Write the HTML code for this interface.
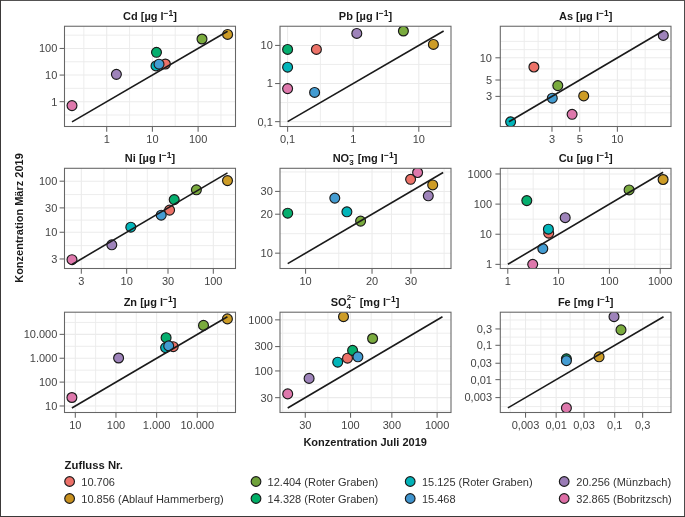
<!DOCTYPE html>
<html><head><meta charset="utf-8"><style>html,body{margin:0;padding:0;background:#fff}svg{display:block}</style></head>
<body><div style="will-change:transform"><svg width="685" height="517" viewBox="0 0 685 517">
<style>
.mn{stroke:#EBEBEB;stroke-width:0.9}
.mj{stroke:#EBEBEB;stroke-width:1.07}
.pt{stroke:#1a1a1a;stroke-width:1.15}
.ln{stroke:#1a1a1a;stroke-width:1.6}
.bd{fill:none;stroke:#666;stroke-width:1.07}
.tk{stroke:#666;stroke-width:1.07}
text{font-family:"Liberation Sans",sans-serif}
.tl{font-size:11px;fill:#444}
.pt_title{font-size:11px;font-weight:bold;fill:#1a1a1a}
.at{font-size:11px;font-weight:bold;fill:#1a1a1a}
.lt{font-size:11.3px;font-weight:bold;fill:#1a1a1a}
.lg{font-size:11px;fill:#333}
</style>
<rect x="0" y="0" width="685" height="517" fill="#fff"/>
<line x1="83.85" y1="26.25" x2="83.85" y2="126.5" class="mn"/>
<line x1="129.55" y1="26.25" x2="129.55" y2="126.5" class="mn"/>
<line x1="175.25" y1="26.25" x2="175.25" y2="126.5" class="mn"/>
<line x1="220.95" y1="26.25" x2="220.95" y2="126.5" class="mn"/>
<line x1="64.5" y1="114.97" x2="235.5" y2="114.97" class="mn"/>
<line x1="64.5" y1="88.37" x2="235.5" y2="88.37" class="mn"/>
<line x1="64.5" y1="61.77" x2="235.5" y2="61.77" class="mn"/>
<line x1="64.5" y1="35.17" x2="235.5" y2="35.17" class="mn"/>
<line x1="106.70" y1="26.25" x2="106.70" y2="126.5" class="mj"/>
<line x1="152.40" y1="26.25" x2="152.40" y2="126.5" class="mj"/>
<line x1="198.10" y1="26.25" x2="198.10" y2="126.5" class="mj"/>
<line x1="64.5" y1="101.67" x2="235.5" y2="101.67" class="mj"/>
<line x1="64.5" y1="75.07" x2="235.5" y2="75.07" class="mj"/>
<line x1="64.5" y1="48.47" x2="235.5" y2="48.47" class="mj"/>
<clipPath id="cp0"><rect x="64.5" y="26.25" width="171.00" height="100.25"/></clipPath><g clip-path="url(#cp0)">
<circle cx="165.4" cy="64.0" r="4.95" fill="#EC7268" class="pt"/>
<circle cx="227.6" cy="34.4" r="4.95" fill="#CD9C26" class="pt"/>
<circle cx="202" cy="39" r="4.95" fill="#7AAB3E" class="pt"/>
<circle cx="156.5" cy="52.3" r="4.95" fill="#05AE6E" class="pt"/>
<circle cx="156.0" cy="65.9" r="4.95" fill="#02B5BA" class="pt"/>
<circle cx="159.0" cy="64.2" r="4.95" fill="#439CD2" class="pt"/>
<circle cx="116.4" cy="74.35" r="4.95" fill="#9E83BA" class="pt"/>
<circle cx="72" cy="105.6" r="4.95" fill="#DE78AC" class="pt"/>
<line x1="72.00" y1="121.86" x2="227.60" y2="31.30" class="ln"/>
</g>
<rect x="64.5" y="26.25" width="171.00" height="100.25" class="bd"/>
<line x1="106.70" y1="126.5" x2="106.70" y2="131.7" class="tk"/>
<text x="106.70" y="142.7" class="tl" text-anchor="middle">1</text>
<line x1="152.40" y1="126.5" x2="152.40" y2="131.7" class="tk"/>
<text x="152.40" y="142.7" class="tl" text-anchor="middle">10</text>
<line x1="198.10" y1="126.5" x2="198.10" y2="131.7" class="tk"/>
<text x="198.10" y="142.7" class="tl" text-anchor="middle">100</text>
<line x1="59.6" y1="101.67" x2="64.5" y2="101.67" class="tk"/>
<text x="57.3" y="105.57" class="tl" text-anchor="end">1</text>
<line x1="59.6" y1="75.07" x2="64.5" y2="75.07" class="tk"/>
<text x="57.3" y="78.97" class="tl" text-anchor="end">10</text>
<line x1="59.6" y1="48.47" x2="64.5" y2="48.47" class="tk"/>
<text x="57.3" y="52.37" class="tl" text-anchor="end">100</text>
<text x="150.00" y="20.0" class="pt_title" text-anchor="middle">Cd [µg l<tspan dy="-4.4" font-size="8.5">−1</tspan><tspan dy="4.4">]</tspan></text>
<line x1="320.40" y1="26.25" x2="320.40" y2="126.5" class="mn"/>
<line x1="386.00" y1="26.25" x2="386.00" y2="126.5" class="mn"/>
<line x1="280.0" y1="102.58" x2="451.0" y2="102.58" class="mn"/>
<line x1="280.0" y1="64.48" x2="451.0" y2="64.48" class="mn"/>
<line x1="287.60" y1="26.25" x2="287.60" y2="126.5" class="mj"/>
<line x1="353.20" y1="26.25" x2="353.20" y2="126.5" class="mj"/>
<line x1="418.80" y1="26.25" x2="418.80" y2="126.5" class="mj"/>
<line x1="280.0" y1="121.63" x2="451.0" y2="121.63" class="mj"/>
<line x1="280.0" y1="83.53" x2="451.0" y2="83.53" class="mj"/>
<line x1="280.0" y1="45.43" x2="451.0" y2="45.43" class="mj"/>
<clipPath id="cp1"><rect x="280.0" y="26.25" width="171.00" height="100.25"/></clipPath><g clip-path="url(#cp1)">
<circle cx="316.4" cy="49.4" r="4.95" fill="#EC7268" class="pt"/>
<circle cx="433.4" cy="44.4" r="4.95" fill="#CD9C26" class="pt"/>
<circle cx="403.4" cy="31" r="4.95" fill="#7AAB3E" class="pt"/>
<circle cx="287.6" cy="49.4" r="4.95" fill="#05AE6E" class="pt"/>
<circle cx="287.6" cy="67.2" r="4.95" fill="#02B5BA" class="pt"/>
<circle cx="314.6" cy="92.4" r="4.95" fill="#439CD2" class="pt"/>
<circle cx="356.8" cy="33.4" r="4.95" fill="#9E83BA" class="pt"/>
<circle cx="287.6" cy="88.6" r="4.95" fill="#DE78AC" class="pt"/>
<line x1="287.60" y1="121.63" x2="443.65" y2="31.00" class="ln"/>
</g>
<rect x="280.0" y="26.25" width="171.00" height="100.25" class="bd"/>
<line x1="287.60" y1="126.5" x2="287.60" y2="131.7" class="tk"/>
<text x="287.60" y="142.7" class="tl" text-anchor="middle">0,1</text>
<line x1="353.20" y1="126.5" x2="353.20" y2="131.7" class="tk"/>
<text x="353.20" y="142.7" class="tl" text-anchor="middle">1</text>
<line x1="418.80" y1="126.5" x2="418.80" y2="131.7" class="tk"/>
<text x="418.80" y="142.7" class="tl" text-anchor="middle">10</text>
<line x1="275.1" y1="121.63" x2="280.0" y2="121.63" class="tk"/>
<text x="272.8" y="125.53" class="tl" text-anchor="end">0,1</text>
<line x1="275.1" y1="83.53" x2="280.0" y2="83.53" class="tk"/>
<text x="272.8" y="87.43" class="tl" text-anchor="end">1</text>
<line x1="275.1" y1="45.43" x2="280.0" y2="45.43" class="tk"/>
<text x="272.8" y="49.33" class="tl" text-anchor="end">10</text>
<text x="365.50" y="20.0" class="pt_title" text-anchor="middle">Pb [µg l<tspan dy="-4.4" font-size="8.5">−1</tspan><tspan dy="4.4">]</tspan></text>
<line x1="538.11" y1="26.25" x2="538.11" y2="126.5" class="mn"/>
<line x1="565.86" y1="26.25" x2="565.86" y2="126.5" class="mn"/>
<line x1="598.56" y1="26.25" x2="598.56" y2="126.5" class="mn"/>
<line x1="631.26" y1="26.25" x2="631.26" y2="126.5" class="mn"/>
<line x1="524.23" y1="26.25" x2="524.23" y2="126.5" class="mn"/>
<line x1="645.14" y1="26.25" x2="645.14" y2="126.5" class="mn"/>
<line x1="500.3" y1="104.58" x2="671.0" y2="104.58" class="mn"/>
<line x1="500.3" y1="88.20" x2="671.0" y2="88.20" class="mn"/>
<line x1="500.3" y1="68.90" x2="671.0" y2="68.90" class="mn"/>
<line x1="500.3" y1="49.61" x2="671.0" y2="49.61" class="mn"/>
<line x1="500.3" y1="112.77" x2="671.0" y2="112.77" class="mn"/>
<line x1="500.3" y1="41.42" x2="671.0" y2="41.42" class="mn"/>
<line x1="551.98" y1="26.25" x2="551.98" y2="126.5" class="mj"/>
<line x1="579.73" y1="26.25" x2="579.73" y2="126.5" class="mj"/>
<line x1="617.39" y1="26.25" x2="617.39" y2="126.5" class="mj"/>
<line x1="500.3" y1="96.39" x2="671.0" y2="96.39" class="mj"/>
<line x1="500.3" y1="80.01" x2="671.0" y2="80.01" class="mj"/>
<line x1="500.3" y1="57.79" x2="671.0" y2="57.79" class="mj"/>
<clipPath id="cp2"><rect x="500.3" y="26.25" width="170.70" height="100.25"/></clipPath><g clip-path="url(#cp2)">
<circle cx="533.9" cy="67" r="4.95" fill="#EC7268" class="pt"/>
<circle cx="583.7" cy="95.9" r="4.95" fill="#CD9C26" class="pt"/>
<circle cx="557.8" cy="85.6" r="4.95" fill="#7AAB3E" class="pt"/>
<circle cx="510.6" cy="121.8" r="4.95" fill="#02B5BA" class="pt"/>
<circle cx="552.3" cy="98.2" r="4.95" fill="#439CD2" class="pt"/>
<circle cx="663.3" cy="35.4" r="4.95" fill="#9E83BA" class="pt"/>
<circle cx="572.1" cy="114.3" r="4.95" fill="#DE78AC" class="pt"/>
<line x1="508.93" y1="121.80" x2="663.30" y2="30.70" class="ln"/>
</g>
<rect x="500.3" y="26.25" width="170.70" height="100.25" class="bd"/>
<line x1="551.98" y1="126.5" x2="551.98" y2="131.7" class="tk"/>
<text x="551.98" y="142.7" class="tl" text-anchor="middle">3</text>
<line x1="579.73" y1="126.5" x2="579.73" y2="131.7" class="tk"/>
<text x="579.73" y="142.7" class="tl" text-anchor="middle">5</text>
<line x1="617.39" y1="126.5" x2="617.39" y2="131.7" class="tk"/>
<text x="617.39" y="142.7" class="tl" text-anchor="middle">10</text>
<line x1="495.40000000000003" y1="96.39" x2="500.3" y2="96.39" class="tk"/>
<text x="492.0" y="100.29" class="tl" text-anchor="end">3</text>
<line x1="495.40000000000003" y1="80.01" x2="500.3" y2="80.01" class="tk"/>
<text x="492.0" y="83.91" class="tl" text-anchor="end">5</text>
<line x1="495.40000000000003" y1="57.79" x2="500.3" y2="57.79" class="tk"/>
<text x="492.0" y="61.69" class="tl" text-anchor="end">10</text>
<text x="585.65" y="20.0" class="pt_title" text-anchor="middle">As [µg l<tspan dy="-4.4" font-size="8.5">−1</tspan><tspan dy="4.4">]</tspan></text>
<line x1="103.99" y1="168.3" x2="103.99" y2="268.5" class="mn"/>
<line x1="147.32" y1="168.3" x2="147.32" y2="268.5" class="mn"/>
<line x1="190.66" y1="168.3" x2="190.66" y2="268.5" class="mn"/>
<line x1="64.5" y1="245.61" x2="235.5" y2="245.61" class="mn"/>
<line x1="64.5" y1="220.08" x2="235.5" y2="220.08" class="mn"/>
<line x1="64.5" y1="194.54" x2="235.5" y2="194.54" class="mn"/>
<line x1="81.33" y1="168.3" x2="81.33" y2="268.5" class="mj"/>
<line x1="126.65" y1="168.3" x2="126.65" y2="268.5" class="mj"/>
<line x1="168.00" y1="168.3" x2="168.00" y2="268.5" class="mj"/>
<line x1="213.32" y1="168.3" x2="213.32" y2="268.5" class="mj"/>
<line x1="64.5" y1="258.96" x2="235.5" y2="258.96" class="mj"/>
<line x1="64.5" y1="232.26" x2="235.5" y2="232.26" class="mj"/>
<line x1="64.5" y1="207.89" x2="235.5" y2="207.89" class="mj"/>
<line x1="64.5" y1="181.19" x2="235.5" y2="181.19" class="mj"/>
<clipPath id="cp3"><rect x="64.5" y="168.3" width="171.00" height="100.20"/></clipPath><g clip-path="url(#cp3)">
<circle cx="169.6" cy="210.1" r="4.95" fill="#EC7268" class="pt"/>
<circle cx="227.5" cy="180.6" r="4.95" fill="#CD9C26" class="pt"/>
<circle cx="196.4" cy="189.8" r="4.95" fill="#7AAB3E" class="pt"/>
<circle cx="174.2" cy="199.6" r="4.95" fill="#05AE6E" class="pt"/>
<circle cx="130.8" cy="227.2" r="4.95" fill="#02B5BA" class="pt"/>
<circle cx="161.2" cy="215.2" r="4.95" fill="#439CD2" class="pt"/>
<circle cx="111.8" cy="244.8" r="4.95" fill="#9E83BA" class="pt"/>
<circle cx="72" cy="259.7" r="4.95" fill="#DE78AC" class="pt"/>
<line x1="72.00" y1="264.46" x2="227.50" y2="172.83" class="ln"/>
</g>
<rect x="64.5" y="168.3" width="171.00" height="100.20" class="bd"/>
<line x1="81.33" y1="268.5" x2="81.33" y2="273.7" class="tk"/>
<text x="81.33" y="284.7" class="tl" text-anchor="middle">3</text>
<line x1="126.65" y1="268.5" x2="126.65" y2="273.7" class="tk"/>
<text x="126.65" y="284.7" class="tl" text-anchor="middle">10</text>
<line x1="168.00" y1="268.5" x2="168.00" y2="273.7" class="tk"/>
<text x="168.00" y="284.7" class="tl" text-anchor="middle">30</text>
<line x1="213.32" y1="268.5" x2="213.32" y2="273.7" class="tk"/>
<text x="213.32" y="284.7" class="tl" text-anchor="middle">100</text>
<line x1="59.6" y1="258.96" x2="64.5" y2="258.96" class="tk"/>
<text x="57.3" y="262.86" class="tl" text-anchor="end">3</text>
<line x1="59.6" y1="232.26" x2="64.5" y2="232.26" class="tk"/>
<text x="57.3" y="236.16" class="tl" text-anchor="end">10</text>
<line x1="59.6" y1="207.89" x2="64.5" y2="207.89" class="tk"/>
<text x="57.3" y="211.79" class="tl" text-anchor="end">30</text>
<line x1="59.6" y1="181.19" x2="64.5" y2="181.19" class="tk"/>
<text x="57.3" y="185.09" class="tl" text-anchor="end">100</text>
<text x="150.00" y="162.0" class="pt_title" text-anchor="middle">Ni [µg l<tspan dy="-4.4" font-size="8.5">−1</tspan><tspan dy="4.4">]</tspan></text>
<line x1="338.80" y1="168.3" x2="338.80" y2="268.5" class="mn"/>
<line x1="391.46" y1="168.3" x2="391.46" y2="268.5" class="mn"/>
<line x1="444.12" y1="168.3" x2="444.12" y2="268.5" class="mn"/>
<line x1="280.0" y1="233.69" x2="451.0" y2="233.69" class="mn"/>
<line x1="280.0" y1="202.81" x2="451.0" y2="202.81" class="mn"/>
<line x1="280.0" y1="171.94" x2="451.0" y2="171.94" class="mn"/>
<line x1="305.57" y1="168.3" x2="305.57" y2="268.5" class="mj"/>
<line x1="372.03" y1="168.3" x2="372.03" y2="268.5" class="mj"/>
<line x1="410.90" y1="168.3" x2="410.90" y2="268.5" class="mj"/>
<line x1="280.0" y1="253.17" x2="451.0" y2="253.17" class="mj"/>
<line x1="280.0" y1="214.21" x2="451.0" y2="214.21" class="mj"/>
<line x1="280.0" y1="191.42" x2="451.0" y2="191.42" class="mj"/>
<clipPath id="cp4"><rect x="280.0" y="168.3" width="171.00" height="100.20"/></clipPath><g clip-path="url(#cp4)">
<circle cx="410.6" cy="179.3" r="4.95" fill="#EC7268" class="pt"/>
<circle cx="432.7" cy="184.9" r="4.95" fill="#CD9C26" class="pt"/>
<circle cx="360.6" cy="221.1" r="4.95" fill="#7AAB3E" class="pt"/>
<circle cx="287.7" cy="213.2" r="4.95" fill="#05AE6E" class="pt"/>
<circle cx="346.9" cy="211.8" r="4.95" fill="#02B5BA" class="pt"/>
<circle cx="334.8" cy="198.1" r="4.95" fill="#439CD2" class="pt"/>
<circle cx="428.3" cy="195.8" r="4.95" fill="#9E83BA" class="pt"/>
<circle cx="417.6" cy="172.5" r="4.95" fill="#DE78AC" class="pt"/>
<line x1="287.70" y1="263.65" x2="443.17" y2="172.50" class="ln"/>
</g>
<rect x="280.0" y="168.3" width="171.00" height="100.20" class="bd"/>
<line x1="305.57" y1="268.5" x2="305.57" y2="273.7" class="tk"/>
<text x="305.57" y="284.7" class="tl" text-anchor="middle">10</text>
<line x1="372.03" y1="268.5" x2="372.03" y2="273.7" class="tk"/>
<text x="372.03" y="284.7" class="tl" text-anchor="middle">20</text>
<line x1="410.90" y1="268.5" x2="410.90" y2="273.7" class="tk"/>
<text x="410.90" y="284.7" class="tl" text-anchor="middle">30</text>
<line x1="275.1" y1="253.17" x2="280.0" y2="253.17" class="tk"/>
<text x="272.8" y="257.07" class="tl" text-anchor="end">10</text>
<line x1="275.1" y1="214.21" x2="280.0" y2="214.21" class="tk"/>
<text x="272.8" y="218.11" class="tl" text-anchor="end">20</text>
<line x1="275.1" y1="191.42" x2="280.0" y2="191.42" class="tk"/>
<text x="272.8" y="195.32" class="tl" text-anchor="end">30</text>
<text x="365.00" y="162.0" class="pt_title" text-anchor="middle">NO<tspan dy="3" font-size="8">3</tspan><tspan dx="-4.5" dy="-7.5" font-size="8">−</tspan><tspan dx="0.8" dy="4.5"> [mg l<tspan dy="-4.4" font-size="8.5">−1</tspan><tspan dy="4.4">]</tspan></tspan></text>
<line x1="533.18" y1="168.3" x2="533.18" y2="268.5" class="mn"/>
<line x1="584.00" y1="168.3" x2="584.00" y2="268.5" class="mn"/>
<line x1="634.82" y1="168.3" x2="634.82" y2="268.5" class="mn"/>
<line x1="500.3" y1="249.31" x2="671.0" y2="249.31" class="mn"/>
<line x1="500.3" y1="219.18" x2="671.0" y2="219.18" class="mn"/>
<line x1="500.3" y1="189.04" x2="671.0" y2="189.04" class="mn"/>
<line x1="507.77" y1="168.3" x2="507.77" y2="268.5" class="mj"/>
<line x1="558.59" y1="168.3" x2="558.59" y2="268.5" class="mj"/>
<line x1="609.41" y1="168.3" x2="609.41" y2="268.5" class="mj"/>
<line x1="660.23" y1="168.3" x2="660.23" y2="268.5" class="mj"/>
<line x1="500.3" y1="264.37" x2="671.0" y2="264.37" class="mj"/>
<line x1="500.3" y1="234.24" x2="671.0" y2="234.24" class="mj"/>
<line x1="500.3" y1="204.11" x2="671.0" y2="204.11" class="mj"/>
<line x1="500.3" y1="173.98" x2="671.0" y2="173.98" class="mj"/>
<clipPath id="cp5"><rect x="500.3" y="168.3" width="170.70" height="100.20"/></clipPath><g clip-path="url(#cp5)">
<circle cx="548.7" cy="233.2" r="4.95" fill="#EC7268" class="pt"/>
<circle cx="663.1" cy="179.5" r="4.95" fill="#CD9C26" class="pt"/>
<circle cx="629.1" cy="189.9" r="4.95" fill="#7AAB3E" class="pt"/>
<circle cx="526.8" cy="200.6" r="4.95" fill="#05AE6E" class="pt"/>
<circle cx="548.4" cy="229.2" r="4.95" fill="#02B5BA" class="pt"/>
<circle cx="542.8" cy="248.6" r="4.95" fill="#439CD2" class="pt"/>
<circle cx="565.2" cy="217.7" r="4.95" fill="#9E83BA" class="pt"/>
<circle cx="532.7" cy="264.3" r="4.95" fill="#DE78AC" class="pt"/>
<line x1="507.89" y1="264.30" x2="663.10" y2="172.28" class="ln"/>
</g>
<rect x="500.3" y="168.3" width="170.70" height="100.20" class="bd"/>
<line x1="507.77" y1="268.5" x2="507.77" y2="273.7" class="tk"/>
<text x="507.77" y="284.7" class="tl" text-anchor="middle">1</text>
<line x1="558.59" y1="268.5" x2="558.59" y2="273.7" class="tk"/>
<text x="558.59" y="284.7" class="tl" text-anchor="middle">10</text>
<line x1="609.41" y1="268.5" x2="609.41" y2="273.7" class="tk"/>
<text x="609.41" y="284.7" class="tl" text-anchor="middle">100</text>
<line x1="660.23" y1="268.5" x2="660.23" y2="273.7" class="tk"/>
<text x="660.23" y="284.7" class="tl" text-anchor="middle">1000</text>
<line x1="495.40000000000003" y1="264.37" x2="500.3" y2="264.37" class="tk"/>
<text x="492.0" y="268.27" class="tl" text-anchor="end">1</text>
<line x1="495.40000000000003" y1="234.24" x2="500.3" y2="234.24" class="tk"/>
<text x="492.0" y="238.14" class="tl" text-anchor="end">10</text>
<line x1="495.40000000000003" y1="204.11" x2="500.3" y2="204.11" class="tk"/>
<text x="492.0" y="208.01" class="tl" text-anchor="end">100</text>
<line x1="495.40000000000003" y1="173.98" x2="500.3" y2="173.98" class="tk"/>
<text x="492.0" y="177.88" class="tl" text-anchor="end">1000</text>
<text x="585.65" y="162.0" class="pt_title" text-anchor="middle">Cu [µg l<tspan dy="-4.4" font-size="8.5">−1</tspan><tspan dy="4.4">]</tspan></text>
<line x1="95.64" y1="312.2" x2="95.64" y2="412.5" class="mn"/>
<line x1="136.30" y1="312.2" x2="136.30" y2="412.5" class="mn"/>
<line x1="176.96" y1="312.2" x2="176.96" y2="412.5" class="mn"/>
<line x1="217.62" y1="312.2" x2="217.62" y2="412.5" class="mn"/>
<line x1="64.5" y1="394.05" x2="235.5" y2="394.05" class="mn"/>
<line x1="64.5" y1="370.18" x2="235.5" y2="370.18" class="mn"/>
<line x1="64.5" y1="346.30" x2="235.5" y2="346.30" class="mn"/>
<line x1="64.5" y1="322.43" x2="235.5" y2="322.43" class="mn"/>
<line x1="75.31" y1="312.2" x2="75.31" y2="412.5" class="mj"/>
<line x1="115.97" y1="312.2" x2="115.97" y2="412.5" class="mj"/>
<line x1="156.63" y1="312.2" x2="156.63" y2="412.5" class="mj"/>
<line x1="197.29" y1="312.2" x2="197.29" y2="412.5" class="mj"/>
<line x1="64.5" y1="405.98" x2="235.5" y2="405.98" class="mj"/>
<line x1="64.5" y1="382.11" x2="235.5" y2="382.11" class="mj"/>
<line x1="64.5" y1="358.24" x2="235.5" y2="358.24" class="mj"/>
<line x1="64.5" y1="334.37" x2="235.5" y2="334.37" class="mj"/>
<clipPath id="cp6"><rect x="64.5" y="312.2" width="171.00" height="100.30"/></clipPath><g clip-path="url(#cp6)">
<circle cx="173.2" cy="346.7" r="4.95" fill="#EC7268" class="pt"/>
<circle cx="227.4" cy="318.9" r="4.95" fill="#CD9C26" class="pt"/>
<circle cx="203.5" cy="325.4" r="4.95" fill="#7AAB3E" class="pt"/>
<circle cx="166.1" cy="337.7" r="4.95" fill="#05AE6E" class="pt"/>
<circle cx="165.6" cy="347.6" r="4.95" fill="#02B5BA" class="pt"/>
<circle cx="168.7" cy="345.9" r="4.95" fill="#439CD2" class="pt"/>
<circle cx="118.6" cy="358.0" r="4.95" fill="#9E83BA" class="pt"/>
<circle cx="71.9" cy="397.5" r="4.95" fill="#DE78AC" class="pt"/>
<line x1="71.90" y1="407.98" x2="227.40" y2="316.69" class="ln"/>
</g>
<rect x="64.5" y="312.2" width="171.00" height="100.30" class="bd"/>
<line x1="75.31" y1="412.5" x2="75.31" y2="417.7" class="tk"/>
<text x="75.31" y="428.7" class="tl" text-anchor="middle">10</text>
<line x1="115.97" y1="412.5" x2="115.97" y2="417.7" class="tk"/>
<text x="115.97" y="428.7" class="tl" text-anchor="middle">100</text>
<line x1="156.63" y1="412.5" x2="156.63" y2="417.7" class="tk"/>
<text x="156.63" y="428.7" class="tl" text-anchor="middle">1.000</text>
<line x1="197.29" y1="412.5" x2="197.29" y2="417.7" class="tk"/>
<text x="197.29" y="428.7" class="tl" text-anchor="middle">10.000</text>
<line x1="59.6" y1="405.98" x2="64.5" y2="405.98" class="tk"/>
<text x="57.3" y="409.88" class="tl" text-anchor="end">10</text>
<line x1="59.6" y1="382.11" x2="64.5" y2="382.11" class="tk"/>
<text x="57.3" y="386.01" class="tl" text-anchor="end">100</text>
<line x1="59.6" y1="358.24" x2="64.5" y2="358.24" class="tk"/>
<text x="57.3" y="362.14" class="tl" text-anchor="end">1.000</text>
<line x1="59.6" y1="334.37" x2="64.5" y2="334.37" class="tk"/>
<text x="57.3" y="338.27" class="tl" text-anchor="end">10.000</text>
<text x="150.00" y="306.0" class="pt_title" text-anchor="middle">Zn [µg l<tspan dy="-4.4" font-size="8.5">−1</tspan><tspan dy="4.4">]</tspan></text>
<line x1="282.65" y1="312.2" x2="282.65" y2="412.5" class="mn"/>
<line x1="327.92" y1="312.2" x2="327.92" y2="412.5" class="mn"/>
<line x1="371.20" y1="312.2" x2="371.20" y2="412.5" class="mn"/>
<line x1="414.48" y1="312.2" x2="414.48" y2="412.5" class="mn"/>
<line x1="280.0" y1="411.00" x2="451.0" y2="411.00" class="mn"/>
<line x1="280.0" y1="384.29" x2="451.0" y2="384.29" class="mn"/>
<line x1="280.0" y1="358.75" x2="451.0" y2="358.75" class="mn"/>
<line x1="280.0" y1="333.21" x2="451.0" y2="333.21" class="mn"/>
<line x1="305.28" y1="312.2" x2="305.28" y2="412.5" class="mj"/>
<line x1="350.55" y1="312.2" x2="350.55" y2="412.5" class="mj"/>
<line x1="391.85" y1="312.2" x2="391.85" y2="412.5" class="mj"/>
<line x1="437.12" y1="312.2" x2="437.12" y2="412.5" class="mj"/>
<line x1="280.0" y1="397.65" x2="451.0" y2="397.65" class="mj"/>
<line x1="280.0" y1="370.94" x2="451.0" y2="370.94" class="mj"/>
<line x1="280.0" y1="346.56" x2="451.0" y2="346.56" class="mj"/>
<line x1="280.0" y1="319.85" x2="451.0" y2="319.85" class="mj"/>
<clipPath id="cp7"><rect x="280.0" y="312.2" width="171.00" height="100.30"/></clipPath><g clip-path="url(#cp7)">
<circle cx="347.5" cy="358.2" r="4.95" fill="#EC7268" class="pt"/>
<circle cx="343.5" cy="316.7" r="4.95" fill="#CD9C26" class="pt"/>
<circle cx="372.6" cy="338.5" r="4.95" fill="#7AAB3E" class="pt"/>
<circle cx="352.6" cy="350.4" r="4.95" fill="#05AE6E" class="pt"/>
<circle cx="337.7" cy="362.2" r="4.95" fill="#02B5BA" class="pt"/>
<circle cx="357.9" cy="356.8" r="4.95" fill="#439CD2" class="pt"/>
<circle cx="309.1" cy="378.4" r="4.95" fill="#9E83BA" class="pt"/>
<circle cx="287.7" cy="393.9" r="4.95" fill="#DE78AC" class="pt"/>
<line x1="287.70" y1="408.02" x2="442.46" y2="316.70" class="ln"/>
</g>
<rect x="280.0" y="312.2" width="171.00" height="100.30" class="bd"/>
<line x1="305.28" y1="412.5" x2="305.28" y2="417.7" class="tk"/>
<text x="305.28" y="428.7" class="tl" text-anchor="middle">30</text>
<line x1="350.55" y1="412.5" x2="350.55" y2="417.7" class="tk"/>
<text x="350.55" y="428.7" class="tl" text-anchor="middle">100</text>
<line x1="391.85" y1="412.5" x2="391.85" y2="417.7" class="tk"/>
<text x="391.85" y="428.7" class="tl" text-anchor="middle">300</text>
<line x1="437.12" y1="412.5" x2="437.12" y2="417.7" class="tk"/>
<text x="437.12" y="428.7" class="tl" text-anchor="middle">1000</text>
<line x1="275.1" y1="397.65" x2="280.0" y2="397.65" class="tk"/>
<text x="272.8" y="401.55" class="tl" text-anchor="end">30</text>
<line x1="275.1" y1="370.94" x2="280.0" y2="370.94" class="tk"/>
<text x="272.8" y="374.84" class="tl" text-anchor="end">100</text>
<line x1="275.1" y1="346.56" x2="280.0" y2="346.56" class="tk"/>
<text x="272.8" y="350.46" class="tl" text-anchor="end">300</text>
<line x1="275.1" y1="319.85" x2="280.0" y2="319.85" class="tk"/>
<text x="272.8" y="323.75" class="tl" text-anchor="end">1000</text>
<text x="365.00" y="306.0" class="pt_title" text-anchor="middle">SO<tspan dy="2.6" font-size="8">4</tspan><tspan dx="-4.3" dy="-8.6" font-size="8">2−</tspan><tspan dx="0.8" dy="6.0"> [mg l<tspan dy="-4.4" font-size="8.5">−1</tspan><tspan dy="4.4">]</tspan></tspan></text>
<line x1="510.22" y1="312.2" x2="510.22" y2="412.5" class="mn"/>
<line x1="540.84" y1="312.2" x2="540.84" y2="412.5" class="mn"/>
<line x1="570.12" y1="312.2" x2="570.12" y2="412.5" class="mn"/>
<line x1="599.39" y1="312.2" x2="599.39" y2="412.5" class="mn"/>
<line x1="628.67" y1="312.2" x2="628.67" y2="412.5" class="mn"/>
<line x1="657.95" y1="312.2" x2="657.95" y2="412.5" class="mn"/>
<line x1="500.3" y1="406.54" x2="671.0" y2="406.54" class="mn"/>
<line x1="500.3" y1="388.60" x2="671.0" y2="388.60" class="mn"/>
<line x1="500.3" y1="371.44" x2="671.0" y2="371.44" class="mn"/>
<line x1="500.3" y1="354.28" x2="671.0" y2="354.28" class="mn"/>
<line x1="500.3" y1="337.12" x2="671.0" y2="337.12" class="mn"/>
<line x1="500.3" y1="319.97" x2="671.0" y2="319.97" class="mn"/>
<line x1="525.53" y1="312.2" x2="525.53" y2="412.5" class="mj"/>
<line x1="556.15" y1="312.2" x2="556.15" y2="412.5" class="mj"/>
<line x1="584.08" y1="312.2" x2="584.08" y2="412.5" class="mj"/>
<line x1="614.70" y1="312.2" x2="614.70" y2="412.5" class="mj"/>
<line x1="642.64" y1="312.2" x2="642.64" y2="412.5" class="mj"/>
<line x1="500.3" y1="397.57" x2="671.0" y2="397.57" class="mj"/>
<line x1="500.3" y1="379.63" x2="671.0" y2="379.63" class="mj"/>
<line x1="500.3" y1="363.25" x2="671.0" y2="363.25" class="mj"/>
<line x1="500.3" y1="345.31" x2="671.0" y2="345.31" class="mj"/>
<line x1="500.3" y1="328.94" x2="671.0" y2="328.94" class="mj"/>
<clipPath id="cp8"><rect x="500.3" y="312.2" width="170.70" height="100.30"/></clipPath><g clip-path="url(#cp8)">
<circle cx="599.1" cy="356.8" r="4.95" fill="#CD9C26" class="pt"/>
<circle cx="621.0" cy="329.9" r="4.95" fill="#7AAB3E" class="pt"/>
<circle cx="566.4" cy="358.8" r="4.95" fill="#05AE6E" class="pt"/>
<circle cx="566.4" cy="360.7" r="4.95" fill="#439CD2" class="pt"/>
<circle cx="614.0" cy="316.7" r="4.95" fill="#9E83BA" class="pt"/>
<circle cx="566.4" cy="407.9" r="4.95" fill="#DE78AC" class="pt"/>
<line x1="507.90" y1="407.90" x2="663.52" y2="316.70" class="ln"/>
</g>
<rect x="500.3" y="312.2" width="170.70" height="100.30" class="bd"/>
<line x1="525.53" y1="412.5" x2="525.53" y2="417.7" class="tk"/>
<text x="525.53" y="428.7" class="tl" text-anchor="middle">0,003</text>
<line x1="556.15" y1="412.5" x2="556.15" y2="417.7" class="tk"/>
<text x="556.15" y="428.7" class="tl" text-anchor="middle">0,01</text>
<line x1="584.08" y1="412.5" x2="584.08" y2="417.7" class="tk"/>
<text x="584.08" y="428.7" class="tl" text-anchor="middle">0,03</text>
<line x1="614.70" y1="412.5" x2="614.70" y2="417.7" class="tk"/>
<text x="614.70" y="428.7" class="tl" text-anchor="middle">0,1</text>
<line x1="642.64" y1="412.5" x2="642.64" y2="417.7" class="tk"/>
<text x="642.64" y="428.7" class="tl" text-anchor="middle">0,3</text>
<line x1="495.40000000000003" y1="397.57" x2="500.3" y2="397.57" class="tk"/>
<text x="492.0" y="401.47" class="tl" text-anchor="end">0,003</text>
<line x1="495.40000000000003" y1="379.63" x2="500.3" y2="379.63" class="tk"/>
<text x="492.0" y="383.53" class="tl" text-anchor="end">0,01</text>
<line x1="495.40000000000003" y1="363.25" x2="500.3" y2="363.25" class="tk"/>
<text x="492.0" y="367.15" class="tl" text-anchor="end">0,03</text>
<line x1="495.40000000000003" y1="345.31" x2="500.3" y2="345.31" class="tk"/>
<text x="492.0" y="349.21" class="tl" text-anchor="end">0,1</text>
<line x1="495.40000000000003" y1="328.94" x2="500.3" y2="328.94" class="tk"/>
<text x="492.0" y="332.84" class="tl" text-anchor="end">0,3</text>
<text x="585.65" y="306.0" class="pt_title" text-anchor="middle">Fe [mg l<tspan dy="-4.4" font-size="8.5">−1</tspan><tspan dy="4.4">]</tspan></text>
<text x="365.15" y="445.8" class="at" text-anchor="middle">Konzentration Juli 2019</text>
<text transform="translate(23,218) rotate(-90)" x="0" y="0" class="at" text-anchor="middle">Konzentration März 2019</text>
<text x="64.6" y="468.8" class="lt">Zufluss Nr.</text>
<circle cx="69.6" cy="481.5" r="4.85" fill="#EC7068" class="pt"/>
<text x="81.3" y="485.80" class="lg">10.706</text>
<circle cx="69.6" cy="498.5" r="4.85" fill="#C8901E" class="pt"/>
<text x="81.3" y="502.80" class="lg">10.856 (Ablauf Hammerberg)</text>
<circle cx="256.0" cy="481.5" r="4.85" fill="#6FA23A" class="pt"/>
<text x="267.6" y="485.80" class="lg">12.404 (Roter Graben)</text>
<circle cx="256.0" cy="498.5" r="4.85" fill="#00AE66" class="pt"/>
<text x="267.6" y="502.80" class="lg">14.328 (Roter Graben)</text>
<circle cx="410.2" cy="481.5" r="4.85" fill="#02B2B8" class="pt"/>
<text x="421.9" y="485.80" class="lg">15.125 (Roter Graben)</text>
<circle cx="410.2" cy="498.5" r="4.85" fill="#3F94CE" class="pt"/>
<text x="421.9" y="502.80" class="lg">15.468</text>
<circle cx="564.2" cy="481.5" r="4.85" fill="#997BB5" class="pt"/>
<text x="576.3" y="485.80" class="lg">20.256 (Münzbach)</text>
<circle cx="564.2" cy="498.5" r="4.85" fill="#DE6EA6" class="pt"/>
<text x="576.3" y="502.80" class="lg">32.865 (Bobritzsch)</text>
<rect x="0" y="0" width="685" height="1" fill="#545252"/><rect x="684" y="0" width="1" height="517" fill="#4c4a4a"/><rect x="0" y="516" width="685" height="1" fill="#3b3939"/><rect x="0" y="0" width="1" height="517" fill="#3b3939"/>
</svg></div></body></html>
